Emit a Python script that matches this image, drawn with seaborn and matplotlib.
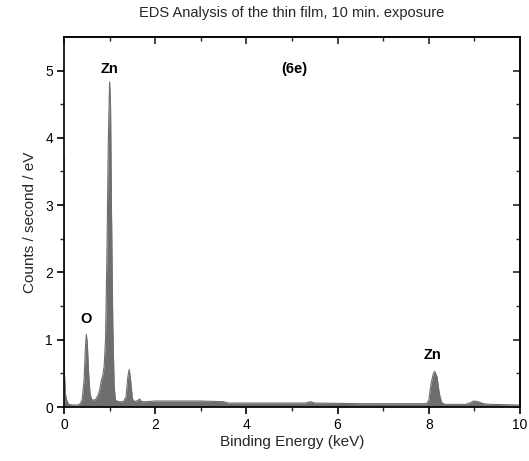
# Imports:
import numpy as np
import pandas as pd
import matplotlib
matplotlib.use("Agg")
import matplotlib.pyplot as plt
import seaborn as sns

# Data:
energy = [0.0, 0.01, 0.03, 0.06, 0.1, 0.2, 0.3, 0.36, 0.4, 0.44, 0.47, 0.49,
          0.51, 0.54, 0.57, 0.6, 0.65, 0.7, 0.75, 0.78, 0.82, 0.85, 0.88, 0.91,
          0.94, 0.97, 1.0, 1.02, 1.04, 1.07, 1.1, 1.13, 1.2, 1.3, 1.36, 1.4,
          1.43, 1.46, 1.5, 1.55, 1.62, 1.66, 1.7, 1.8, 2.0, 2.5, 3.0, 3.5,
          3.6, 4.5, 5.3, 5.4, 5.5, 6.5, 7.5, 7.95, 8.0, 8.05, 8.1, 8.13,
          8.18, 8.23, 8.28, 8.35, 8.8, 8.9, 8.98, 9.08, 9.2, 9.35, 10.0]
counts = [3.7, 0.5, 0.2, 0.1, 0.04, 0.03, 0.03, 0.05, 0.12, 0.4, 0.9, 1.08,
          0.95, 0.5, 0.2, 0.12, 0.1, 0.12, 0.18, 0.25, 0.4, 0.47, 0.6, 1.0,
          2.2, 3.9, 4.83, 4.5, 3.0, 1.2, 0.3, 0.1, 0.08, 0.08, 0.15, 0.45,
          0.56, 0.4, 0.12, 0.08, 0.1, 0.12, 0.08, 0.08, 0.09, 0.09, 0.09, 0.08,
          0.06, 0.06, 0.06, 0.08, 0.06, 0.05, 0.05, 0.05, 0.1, 0.35, 0.5, 0.53,
          0.45, 0.2, 0.07, 0.04, 0.04, 0.06, 0.09, 0.08, 0.05, 0.04, 0.03]

# Labels:
peak_labels = ["Zn", "O", "Zn", "(6e)"]
label_x = [1.0, 0.48, 8.08, 5.06]
label_y = [5.03, 1.31, 0.78, 5.03]

dataframe = pd.DataFrame({"energy": energy, "counts": counts})

# Style:
sns.set_theme(style="ticks")
plt.rcParams["font.family"] = ["Liberation Sans", "DejaVu Sans"]

# Figure:
fig = plt.figure(figsize=(5.29, 4.61), dpi=100)
ax = fig.add_axes([0.121, 0.117, 0.862, 0.803])

# Spectrum:
ax.fill_between(dataframe["energy"], 0, dataframe["counts"], color="#6e6e6e", lw=0)
sns.lineplot(data=dataframe, x="energy", y="counts", ax=ax, color="#6e6e6e",
             lw=0.8, estimator=None, sort=False)

# Labels on peaks:
for text, x, y in zip(peak_labels, label_x, label_y):
    ax.text(x, y, text, ha="center", va="center", fontsize=10.5,
            fontweight="bold", color="black")

# Axes:
ax.set_xlim(0, 10)
ax.set_ylim(0, 5.5)
ax.set_xticks(np.arange(0, 11, 2))
ax.set_xticks(np.arange(1, 10, 2), minor=True)
ax.set_yticks(np.arange(0, 6, 1))
ax.set_yticks(np.arange(0.5, 5.5, 1), minor=True)
ax.tick_params(which="major", direction="out", length=5, width=1.2,
               labelsize=10, colors="black", pad=3)
ax.tick_params(which="minor", direction="out", length=3, width=1.0)

# Mirrored ticks (inward):
top = ax.secondary_xaxis("top")
top.set_xticks(np.arange(0, 11, 2))
top.set_xticks(np.arange(1, 10, 2), minor=True)
top.tick_params(which="major", direction="in", length=5, width=1.2, labeltop=False)
top.tick_params(which="minor", direction="in", length=3, width=1.0)
right = ax.secondary_yaxis("right")
right.set_yticks(np.arange(0, 6, 1))
right.set_yticks(np.arange(0.5, 5.5, 1), minor=True)
right.tick_params(which="major", direction="in", length=5, width=1.2, labelright=False)
right.tick_params(which="minor", direction="in", length=3, width=1.0)

for spine in ax.spines.values():
    spine.set_visible(True)
    spine.set_linewidth(1.2)
    spine.set_color("black")

# X / Y:
ax.set_xlabel("Binding Energy (keV)", fontsize=11, labelpad=2)
ax.set_ylabel("Counts / second / eV", fontsize=11, labelpad=6)

# Title:
ax.set_title("EDS Analysis of the thin film, 10 min. exposure", fontsize=10.5, pad=14)

# Save:
fig.savefig("out.png", dpi=100)
